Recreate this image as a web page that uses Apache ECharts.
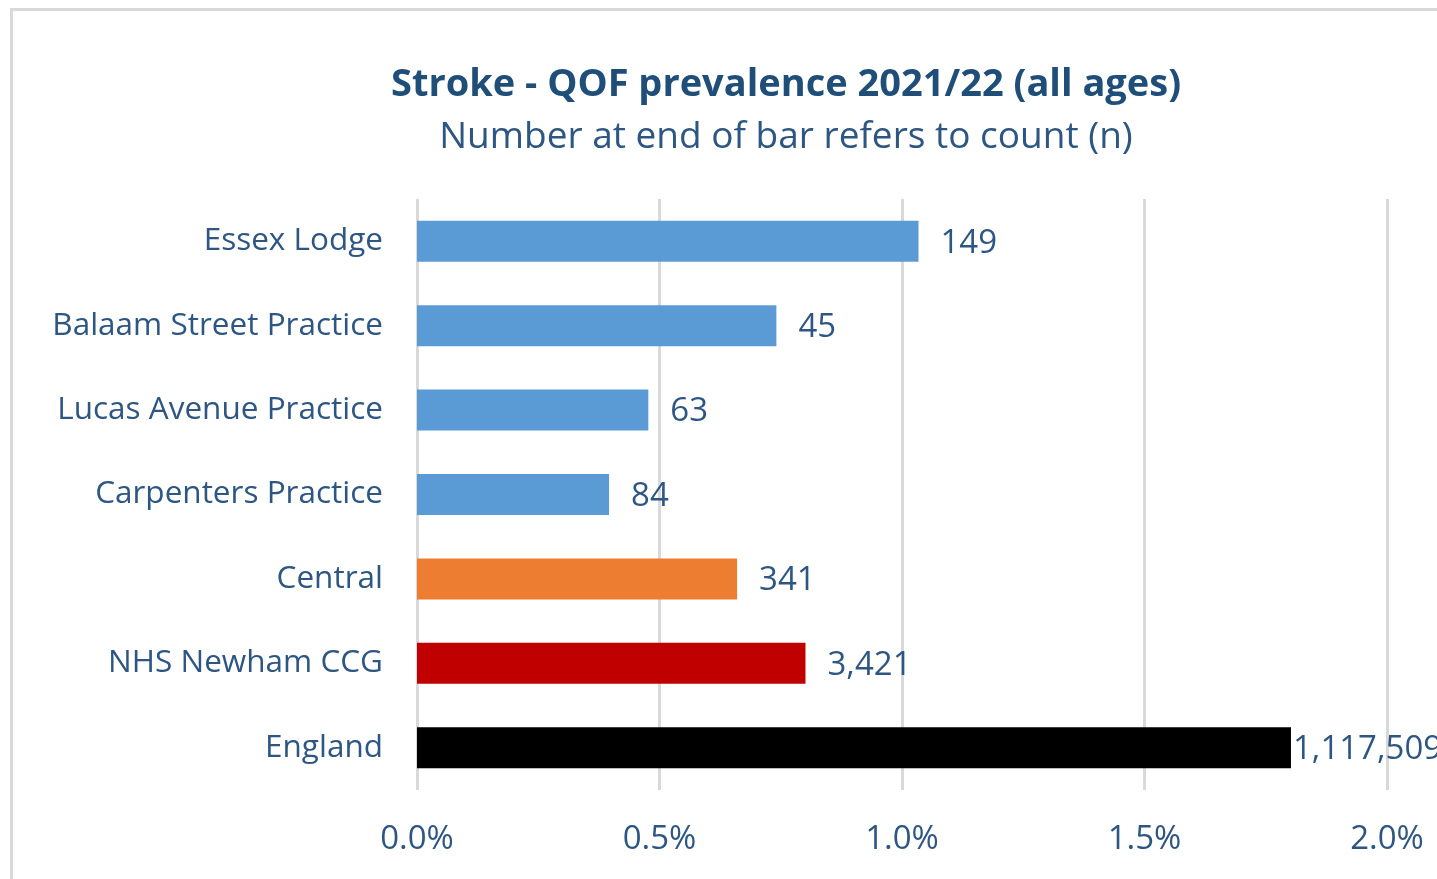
<!DOCTYPE html>
<html>
<head>
<meta charset="utf-8">
<script src="https://cdn.jsdelivr.net/npm/echarts@6/dist/echarts.min.js"></script>
<style>
    html, body { margin: 0; padding: 0; background: #fff; overflow: hidden; }
    #frame {
        position: absolute; left: 10px; top: 8px;
        width: 1600px; height: 1000px;
        border-left: 3px solid #d9d9d9; border-top: 3px solid #d9d9d9;
    }
    #chart { position: absolute; left: 0; top: 0; width: 1437px; height: 879px; }
</style>
</head>
<body>
<div id="frame"></div>
<div id="chart"></div>
<script>
// chart data
var categories = ['Essex Lodge', 'Balaam Street Practice', 'Lucas Avenue Practice', 'Carpenters Practice', 'Central', 'NHS Newham CCG', 'England'];
var prevalence = [1.034, 0.741, 0.477, 0.396, 0.660, 0.801, 1.802];   // percent
var counts = [149, 45, 63, 84, 341, 3421, 1117509];
var xTicks = [0, 0.5, 1.0, 1.5, 2.0];

// bar colours (practice / PCN / CCG / England)
var barColors = ['#5b9bd5', '#5b9bd5', '#5b9bd5', '#5b9bd5', '#ed7d31', '#c00000', '#000000'];

var textColor = '#2e5683';
var fontFam = '"Open Sans", Lato, sans-serif';

var myChart = echarts.init(document.getElementById('chart'));

var option = {
    animation: false,
    title: {
        text: 'Stroke - QOF prevalence 2021/22 (all ages)',
        subtext: 'Number at end of bar refers to count (n)',
        left: 781,
        textAlign: 'center',
        top: 61,
        itemGap: 15,
        textStyle: { color: '#1f4e79', fontSize: 38, fontWeight: 'bold', fontFamily: fontFam },
        subtextStyle: { color: '#2e5683', fontSize: 37, fontFamily: fontFam }
    },
    grid: { left: 417, right: 50, top: 199, bottom: 89, containLabel: false },
    xAxis: {
        type: 'value',
        min: xTicks[0],
        max: xTicks[xTicks.length - 1],
        interval: 0.5,
        axisLine: { show: false },
        axisTick: { show: false },
        splitLine: { lineStyle: { color: '#d9d9d9', width: 3 } },
        axisLabel: {
            margin: 33,
            color: textColor,
            fontSize: 33,
            fontFamily: fontFam,
            formatter: function(v) { return v.toFixed(1) + '%'; }
        }
    },
    yAxis: {
        type: 'category',
        inverse: true,
        data: categories,
        axisLine: { show: false },
        axisTick: { show: false },
        axisLabel: { margin: 34, color: textColor, fontSize: 31.5, fontFamily: fontFam }
    },
    series: [{
        type: 'bar',
        barWidth: 41,
        data: prevalence.map(function(v, i) {
            var item = { value: v, itemStyle: { color: barColors[i] } };
            // last label is pushed against the bar end, as in the original
            if (i === prevalence.length - 1) {
                item.label = { distance: 2 };
            }
            return item;
        }),
        label: {
            show: true,
            position: 'right',
            distance: 22,
            offset: [0, 2],
            color: textColor,
            fontSize: 33,
            fontFamily: fontFam,
            formatter: function(p) { return counts[p.dataIndex].toLocaleString('en-GB'); }
        }
    }]
};

myChart.setOption(option);
</script>
</body>
</html>
